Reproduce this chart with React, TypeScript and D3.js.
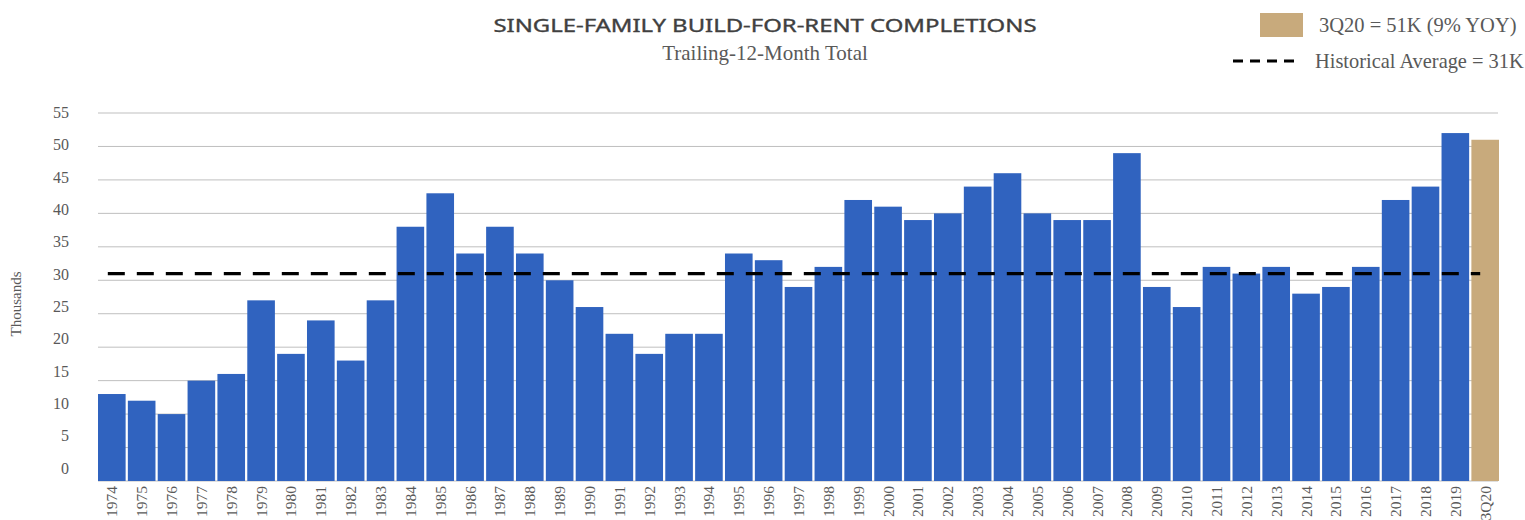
import React from "react";
import * as d3 from "d3";

const categories: string[] = [
  "1974","1975","1976","1977","1978","1979","1980","1981","1982","1983",
  "1984","1985","1986","1987","1988","1989","1990","1991","1992","1993",
  "1994","1995","1996","1997","1998","1999","2000","2001","2002","2003",
  "2004","2005","2006","2007","2008","2009","2010","2011","2012","2013",
  "2014","2015","2016","2017","2018","2019","3Q20",
];
const completions: number[] = [
  13, 12, 10, 15, 16, 27, 19, 24, 18, 27,
  38, 43, 34, 38, 34, 30, 26, 22, 19, 22,
  22, 34, 33, 29, 32, 42, 41, 39, 40, 44,
  46, 40, 39, 39, 49, 29, 26, 32, 31, 32,
  28, 29, 32, 42, 44, 52, 51,
];
const highlightCategory = "3Q20";
const historicalAverage = 31;
const yTicks: number[] = [0, 5, 10, 15, 20, 25, 30, 35, 40, 45, 50, 55];

const title = "SINGLE-FAMILY BUILD-FOR-RENT COMPLETIONS";
const subtitle = "Trailing-12-Month Total";
const legendHighlight = "3Q20 = 51K (9% YOY)";
const legendAverage = "Historical Average = 31K";
const yAxisTitle = "Thousands";

const W = 1525;
const H = 520;
const BLUE = "#3063bf";
const TAN = "#c8aa7c";
const GRID = "#bfbfbf";
const TEXT = "#595959";
const SERIF = "'Liberation Serif', 'Times New Roman', serif";
const SANS = "'Noto Sans', 'Open Sans', sans-serif";

export default function App() {
  const x = d3.scaleBand<string>().domain(categories).range([98, 1499]).paddingInner(0.075).paddingOuter(0);
  const y = d3.scaleLinear().domain([0, 55]).range([481, 113]);
  const yLabel = d3.scaleLinear().domain([0, 55]).range([468, 112.5]);
  const bw = x.bandwidth();

  const first = categories[0];
  const last = categories[categories.length - 1];
  const avgX1 = (x(first) ?? 0) + bw / 2 - 4;
  const avgX2 = (x(last) ?? 0) + bw / 2 - 5;

  return (
    <svg width={W} height={H} style={{ position: "absolute", left: 0, top: 0, background: "#fff" }}>
      {/* title */}
      <text x={765} y={25} textAnchor="middle" dominantBaseline="central" fontFamily={SANS} fontSize={17.5}
        fill="#404040" stroke="#404040" strokeWidth={0.35} textLength={543} lengthAdjust="spacingAndGlyphs">{title}</text>
      <text x={765} y={53} textAnchor="middle" dominantBaseline="central" fontFamily={SERIF} fontSize={21}
        fill={TEXT}>{subtitle}</text>

      {/* legend */}
      <rect x={1260} y={13} width={43} height={24} fill={TAN} />
      <text x={1319} y={25} dominantBaseline="central" fontFamily={SERIF} fontSize={20.5} fill={TEXT}>{legendHighlight}</text>
      <line x1={1233} x2={1300} y1={61} y2={61} stroke="#000" strokeWidth={3} strokeDasharray="10,7" />
      <text x={1315} y={61} dominantBaseline="central" fontFamily={SERIF} fontSize={20.4} fill={TEXT}>{legendAverage}</text>

      {/* gridlines */}
      {yTicks.map((t) => (
        <line key={`g${t}`} x1={98} x2={1498} y1={y(t)} y2={y(t)} stroke={GRID} strokeWidth={1} />
      ))}

      {/* y tick labels */}
      {yTicks.map((t) => (
        <text key={`l${t}`} x={69} y={yLabel(t)} textAnchor="end" dominantBaseline="central"
          fontFamily={SERIF} fontSize={16} fill={TEXT}>{t}</text>
      ))}
      <text transform={`translate(16,304) rotate(-90)`} textAnchor="middle" dominantBaseline="central"
        fontFamily={SERIF} fontSize={15} fill={TEXT}>{yAxisTitle}</text>

      {/* bars */}
      {categories.map((c, i) => (
        <rect key={c} x={x(c)} y={y(completions[i])} width={bw} height={y(0) - y(completions[i])}
          fill={c === highlightCategory ? TAN : BLUE} />
      ))}

      {/* historical average */}
      <line x1={avgX1} x2={avgX2} y1={y(historicalAverage)} y2={y(historicalAverage)} stroke="#000"
        strokeWidth={3.2} strokeDasharray="17,12" />

      {/* x labels */}
      {categories.map((c) => (
        <text key={`x${c}`} transform={`translate(${(x(c) ?? 0) + bw / 2},486) rotate(-90)`}
          textAnchor="end" dominantBaseline="central" fontFamily={SERIF} fontSize={15.5} fill={TEXT}>{c}</text>
      ))}
    </svg>
  );
}
